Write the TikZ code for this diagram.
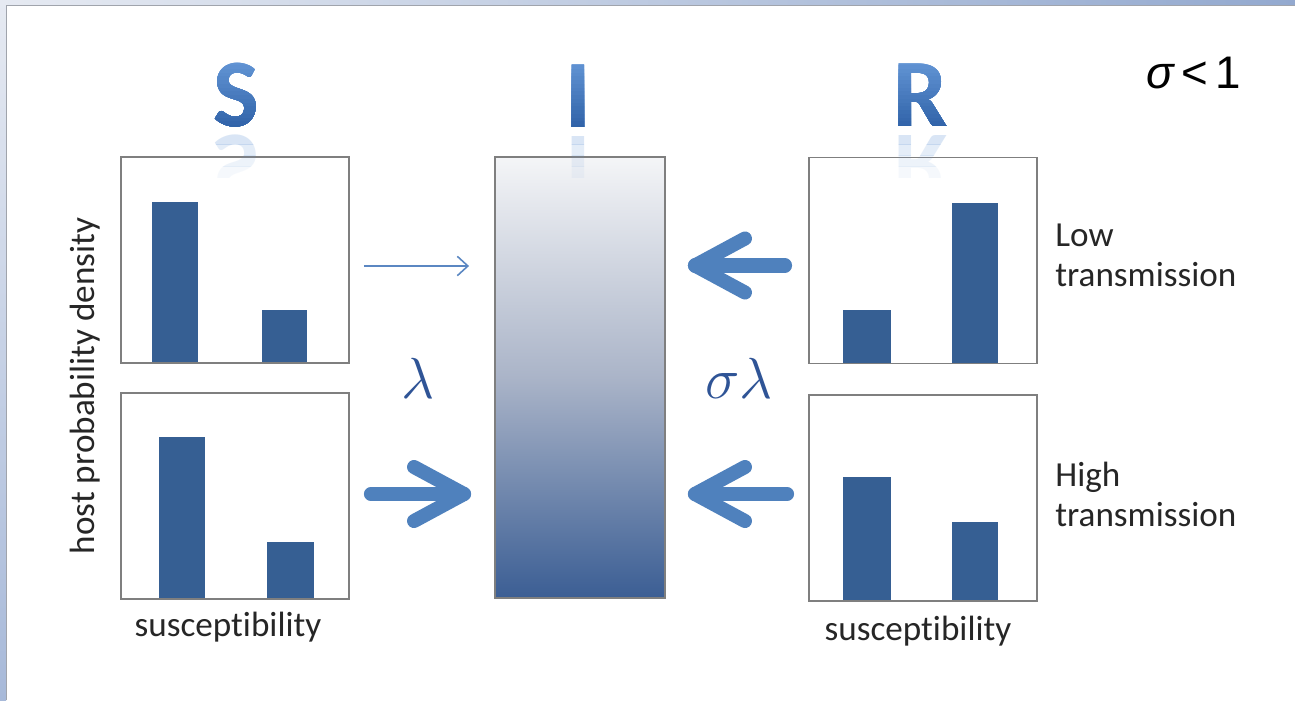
\RequirePackage{fix-cm}
\documentclass[tikz,border=0pt]{standalone}
\usepackage{fontspec}
\setmainfont{Carlito}[Ligatures=NoCommon]
\newfontfamily\arialf{Liberation Sans}
\usetikzlibrary{calc,arrows.meta}
\definecolor{barblue}{HTML}{365F93}
\definecolor{arrblue}{HTML}{4F81BD}
\definecolor{thinblue}{HTML}{5B87C2}
\definecolor{lamblue}{HTML}{2F5496}
\definecolor{letA}{HTML}{6496D6}
\definecolor{letB}{HTML}{2A5DA3}
\definecolor{boxgray}{HTML}{7F7F7F}
\definecolor{Itop}{HTML}{F4F5F7}
\definecolor{Imid}{HTML}{AAB4C8}
\definecolor{Ibot}{HTML}{3B5E94}
\definecolor{stripA}{HTML}{E6EAF2}
\definecolor{stripB}{HTML}{93A9CF}
\definecolor{stripC}{HTML}{A7B9D9}
\definecolor{edgegray}{HTML}{A0A4AC}
\tikzset{
  chart/.style={draw=boxgray, line width=1.1pt, minimum width=4.56cm, minimum height=4.12cm, inner sep=0pt},
  bar/.style={fill=barblue},
  fat/.style={draw=arrblue, line width=8pt, line cap=round, line join=round},
  thinarrow/.style={draw=thinblue, line width=0.9pt, -{Straight Barb[length=6pt,width=11pt]}},
  letter/.style={font=\fontsize{55}{60}\selectfont\bfseries, inner sep=0pt},
  refl/.style={font=\fontsize{55}{60}\selectfont\bfseries, text=letA, inner sep=0pt},
  lab/.style={font=\fontsize{20}{22.7}\selectfont, text=black!85, inner sep=0pt},
  greek/.style={font=\fontsize{33}{36}\selectfont, text=lamblue, inner sep=0pt}
}
\begin{document}
\begin{tikzpicture}[x=0.02cm,y=-0.02cm]
\useasboundingbox (0,0) rectangle (1295,700);
\fill[white] (0,0) rectangle (1295,700);
% window frame strips
\shade[left color=stripA, right color=stripB] (0,0) rectangle (1295,5);
\shade[top color=stripA, bottom color=stripC] (0,0) rectangle (6,700);
\draw[edgegray, line width=0.8pt] (6.5,700) -- (6.5,5.5) -- (1295,5.5);

% bars
\fill[bar] (152,202) rectangle (198,363);
\fill[bar] (262,310) rectangle (307,363);
\fill[bar] (159,437) rectangle (205,599);
\fill[bar] (267,542) rectangle (314,599);
\fill[bar] (843,310) rectangle (891,364);
\fill[bar] (952,203) rectangle (998,364);
\fill[bar] (843,477) rectangle (891,601);
\fill[bar] (952,522) rectangle (998,601);

% chart boxes
\node[chart] (S1) at (235,260) {};
\node[chart] (S2) at (235,496) {};
\node[chart] (R1) at (923,260.5) {};
\node[chart] (R2) at (923,498) {};
\node[draw=boxgray, line width=1.1pt, top color=Itop, bottom color=Ibot, middle color=Imid,
      minimum width=3.4cm, minimum height=8.82cm, inner sep=0pt] (I) at (580,377.5) {};

% compartment letters (overlapping bands imitate a vertical gradient)
\foreach \i in {0,...,19}{
  \pgfmathsetmacro{\pc}{100-\i*5}
  \begin{scope}
    \clip (150,58+\i*3.75) rectangle (1000,140);
    \node[letter, text=letA!\pc!letB, anchor=base] (lS\i) at (236,126) {S};
    \node[letter, text=letA!\pc!letB, anchor=base] (lI\i) at (578,127) {I};
    \node[letter, text=letA!\pc!letB, anchor=base] (lR\i) at (921,126) {R};
  \end{scope}
}
% faded reflections
\foreach \j/\op in {0/0.24,1/0.17,2/0.11,3/0.06}{
  \begin{scope}
    \clip (150,133+\j*11) rectangle (1000,133+\j*11+11);
    \begin{scope}[shift={(236,135)}, yscale=-1]
      \node[refl, opacity=\op, transform shape, anchor=base] (rS\j) at (0,0) {S};
    \end{scope}
    \begin{scope}[shift={(578,136)}, yscale=-1]
      \node[refl, opacity=\op, transform shape, anchor=base] (rI\j) at (0,0) {I};
    \end{scope}
    \begin{scope}[shift={(921,135)}, yscale=-1]
      \node[refl, opacity=\op, transform shape, anchor=base] (rR\j) at (0,0) {R};
    \end{scope}
  \end{scope}
}

% arrows
\coordinate (t1s) at ($(S1.east)+(14,6)$);
\coordinate (t1e) at ($(S1.east -| I.west)+(-25,6)$);
\draw[thinarrow] (t1s) -- (t1e);

\coordinate (t2s) at ($(S2.east)+(21,-2)$);
\coordinate (t2e) at ($(S2.east -| I.west)+(-30,-2)$);
\draw[fat] (t2s) -- (t2e);
\draw[fat] ($(t2e)+(-50,-27)$) -- (t2e) -- ($(t2e)+(-50,27)$);

\coordinate (t3s) at ($(R1.west)+(-23,5)$);
\coordinate (t3e) at ($(R1.west -| I.east)+(29,5)$);
\draw[fat] (t3s) -- (t3e);
\draw[fat] ($(t3e)+(50,-27)$) -- (t3e) -- ($(t3e)+(50,27)$);

\coordinate (t4s) at ($(R2.west)+(-21,-4)$);
\coordinate (t4e) at ($(R2.west -| I.east)+(29,-4)$);
\draw[fat] (t4s) -- (t4e);
\draw[fat] ($(t4e)+(50,-27)$) -- (t4e) -- ($(t4e)+(50,27)$);

% rates
\node[greek, anchor=base] (lam) at (418,398) {$\lambda$};
\node[greek, anchor=base] (slam) at (739,398) {$\sigma\lambda$};

% labels
\node[lab, rotate=90, anchor=base] (ylab) at (94,386) {host probability density};
\node[lab, anchor=base] (xl) at (228,636) {susceptibility};
\node[lab, anchor=base] (xr) at (918,640) {susceptibility};
\node[lab, anchor=north west, align=left] (low) at (1055,224) {Low\\transmission};
\node[lab, anchor=north west, align=left] (high) at (1055,462) {High\\transmission};

\node[font=\arialf\fontsize{26}{30}\selectfont, anchor=base west, inner sep=0pt] (cond) at (1146,88)
  {{\itshape σ}\,<\,1};
\end{tikzpicture}
\end{document}
